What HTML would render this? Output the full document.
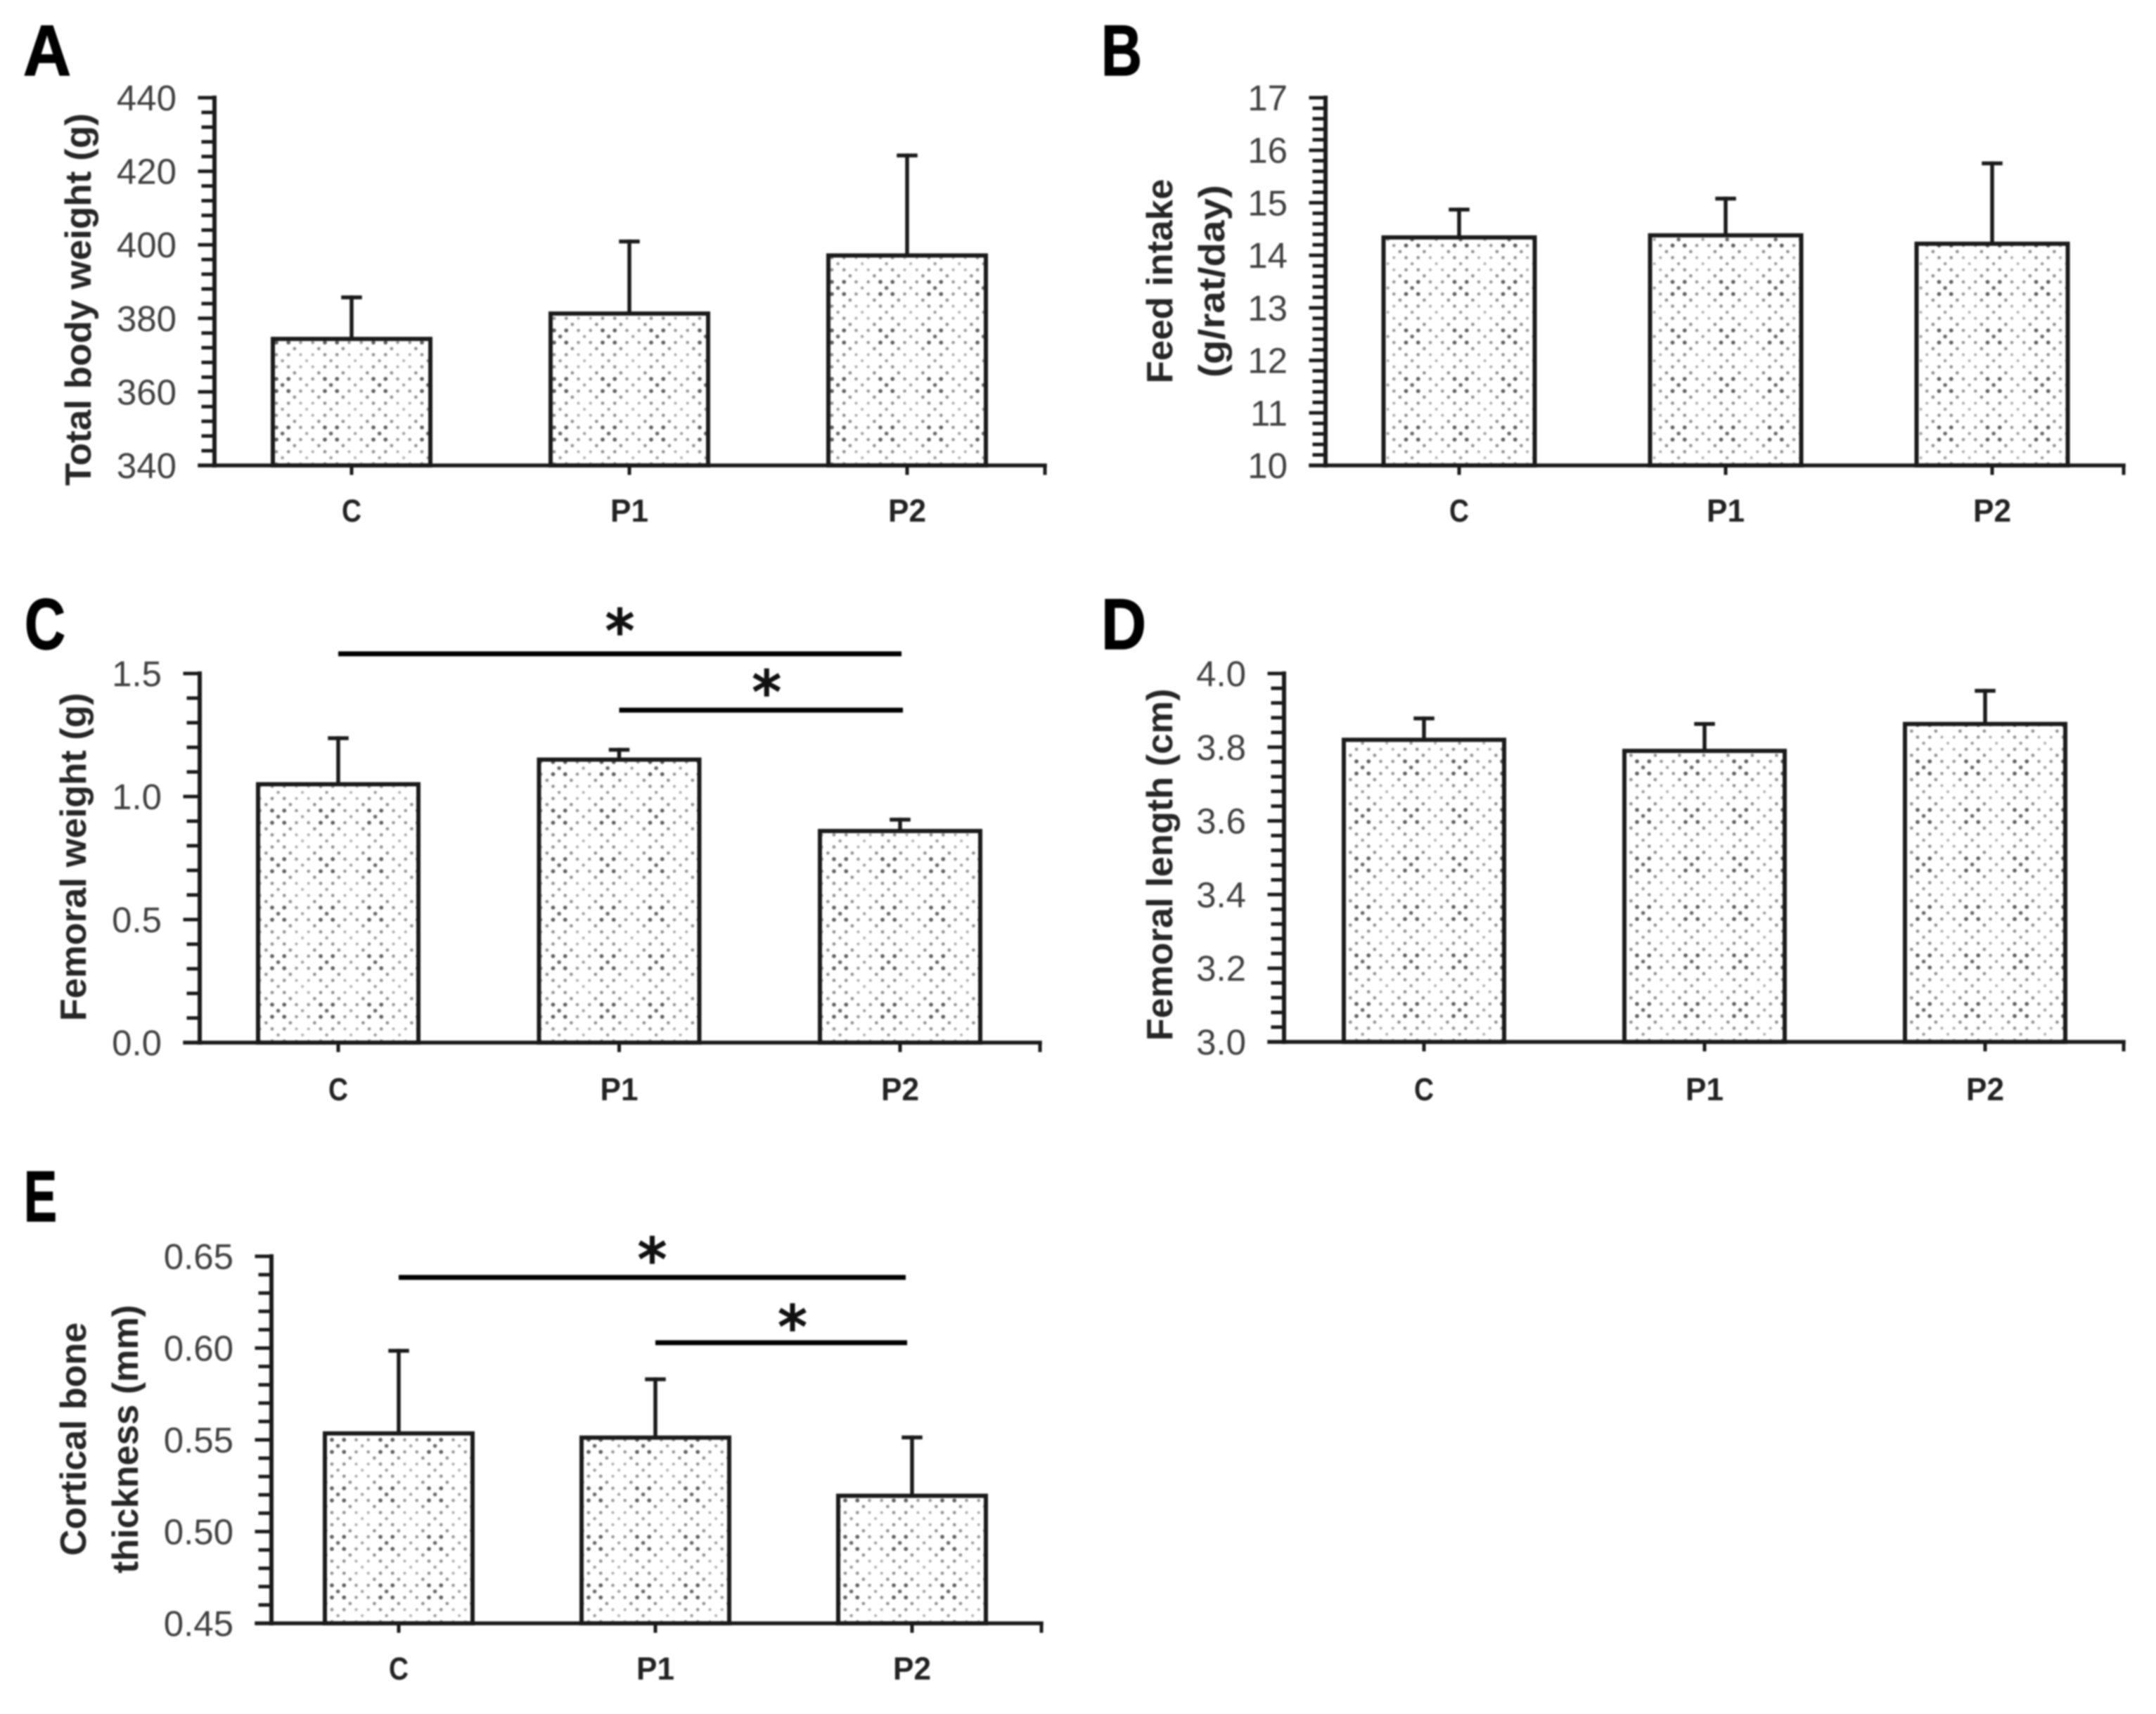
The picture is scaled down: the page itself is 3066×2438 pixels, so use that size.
<!DOCTYPE html>
<html lang="en">
<head>
<meta charset="utf-8">
<title>Body and femoral measurements</title>
<style>
html,body{margin:0;padding:0;background:#fff;width:3066px;height:2438px;overflow:hidden}
svg{display:block;filter:blur(1px)}
.tick{font-family:"Liberation Sans",sans-serif;font-size:51px;fill:#404040}
.title{font-family:"Liberation Sans",sans-serif;font-weight:700;font-size:52px;fill:#262626}
.cat{font-family:"Liberation Sans",sans-serif;font-weight:700;font-size:45px;fill:#222}
.panel{font-family:"Liberation Sans",sans-serif;font-weight:700;font-size:102px;fill:#000;stroke:#000;stroke-width:1.5}
.star{font-family:"DejaVu Sans",sans-serif;font-size:82px;fill:#111;stroke:#111;stroke-width:2.5}
</style>
</head>
<body>
<svg id="fig" xmlns="http://www.w3.org/2000/svg" width="3066" height="2438" viewBox="0 0 3066 2438">
<rect width="3066" height="2438" fill="#fff"/>
<defs><pattern id="dots" patternUnits="userSpaceOnUse" width="69" height="69"></pattern></defs>
</svg>
<script>
// ---- chart data ----
const categories = ['C', 'P1', 'P2'];

const weightTicks = ['340', '360', '380', '400', '420', '440'];
const weightMeans = [374.4, 381.3, 397.1];
const weightErrors = [11.3, 19.6, 27.2];

const feedTicks = ['10', '11', '12', '13', '14', '15', '16', '17'];
const feedMeans = [14.34, 14.38, 14.22];
const feedErrors = [0.53, 0.70, 1.53];

const femurWeightTicks = ['0.0', '0.5', '1.0', '1.5'];
const femurWeightMeans = [1.05, 1.15, 0.86];
const femurWeightErrors = [0.187, 0.04, 0.046];

const femurLengthTicks = ['3.0', '3.2', '3.4', '3.6', '3.8', '4.0'];
const femurLengthMeans = [3.82, 3.79, 3.863];
const femurLengthErrors = [0.058, 0.073, 0.09];

const corticalTicks = ['0.45', '0.50', '0.55', '0.60', '0.65'];
const corticalMeans = [0.5535, 0.5512, 0.5195];
const corticalErrors = [0.045, 0.0318, 0.0318];

const femurWeightSig = [[0, 2, 1.58], [1, 2, 1.351]];
const corticalSig = [[0, 2, 0.6385], [1, 2, 0.6029]];

// ---- layout ----
const panels = [
 {key:'a',letter:'A',lx:33,ly:107,lw:68,ticks:weightTicks,means:weightMeans,errs:weightErrors,
  axisX:305,endX:1486,top:139,bottom:662,first:500,step:395,barW:224,dotShift:5,catY:742,
  titles:[['Total body weight (g)',129,426,530]]},
 {key:'b',letter:'B',lx:1566,ly:107,lw:58,ticks:feedTicks,means:feedMeans,errs:feedErrors,
  axisX:1885,endX:3020,top:139,bottom:662,first:2075,step:379,barW:215,dotShift:32,catY:742,
  titles:[['Feed intake',1667,400,291],['(g/rat/day)',1741,400,274]]},
 {key:'c',letter:'C',lx:35,ly:923,lw:58,ticks:femurWeightTicks,means:femurWeightMeans,errs:femurWeightErrors,
  axisX:284,endX:1479,top:958,bottom:1483,first:481,step:399.5,barW:228,dotShift:20,catY:1565,sig:femurWeightSig,
  sigFmt:[{dx:2,lift:44,sx:0},{dx:4,lift:37,sx:8}],
  titles:[['Femoral weight (g)',122,1219,467]]},
 {key:'d',letter:'D',lx:1566,ly:923,lw:64,ticks:femurLengthTicks,means:femurLengthMeans,errs:femurLengthErrors,
  axisX:1826,endX:3020,top:958,bottom:1482,first:2025,step:399,barW:228,dotShift:18,catY:1565,
  titles:[['Femoral length (cm)',1667,1230,501]]},
 {key:'e',letter:'E',lx:34,ly:1737,lw:47,ticks:corticalTicks,means:corticalMeans,errs:corticalErrors,
  axisX:386,endX:1481,top:1787,bottom:2309,first:567,step:365,barW:210,dotShift:10,catY:2389,sig:corticalSig,
  sigFmt:[{dx:-9,lift:37,sx:0},{dx:-7,lift:34,sx:16}],
  titles:[['Cortical bone',122,2047,332],['thickness (mm)',196,2047,382]]}
];
const INK = '#1a1a1a';
const NS = 'http://www.w3.org/2000/svg';
const svg = document.getElementById('fig');

function mk(tag, attrs, parent, text) {
  const n = document.createElementNS(NS, tag);
  for (const k in attrs) n.setAttribute(k, attrs[k]);
  if (text !== undefined) n.textContent = text;
  parent.appendChild(n);
  return n;
}
function line(parent, x1, y1, x2, y2, w) {
  return mk('line', {x1, y1, x2, y2, stroke: INK, 'stroke-width': w, 'stroke-linecap': 'square'}, parent);
}

// ---- fill texture tile ----
const tile = document.getElementById('dots');
function dot(x, y, d) {
  const px = ((x % 69) + 69) % 69, py = ((y % 69) + 69) % 69;
  [0, -69, 69].forEach(ox => [0, -69, 69].forEach(oy => {
    const cx = px + ox, cy = py + oy;
    if (cx > -4 && cx < 73 && cy > -4 && cy < 73) {
      mk('circle', {cx, cy, r: 1.9 + d * 1.0, fill: '#333', 'fill-opacity': 0.28 + d * 0.5}, tile);
    }
  }));
}
const cellStep = 17.25, rowOrigin = 15;
for (let r = 0; r < 4; r++) for (let c = 0; c < 4; c++) {
  dot(c * cellStep, rowOrigin + r * cellStep, (c < 2 ? 1 : 0.45) * (r < 2 ? 1 : 0.5));
}
[[0, [0.9, 0.35]], [1, [0.5, 0.5]], [2, [0.4, 0.18]], [3, [0.5, 0.5]]].forEach(([s, ds]) => {
  const base = cellStep / 2 + (s % 2 ? cellStep : 0);
  const y = rowOrigin + cellStep / 2 + s * cellStep;
  dot(base, y, ds[0]);
  dot(base + 2 * cellStep, y, ds[1]);
});

// ---- draw panels ----
panels.forEach(p => {
  const tickVals = p.ticks.map(Number);
  const vMin = tickVals[0], vMax = tickVals[tickVals.length - 1];
  const yScale = v => p.bottom - (v - vMin) / (vMax - vMin) * (p.bottom - p.top);
  const xScale = i => p.first + i * p.step;

  const g = mk('g', {}, svg);
  
  

  const letter = mk('text', {x: p.lx, y: p.ly, class: 'panel', textLength: p.lw, lengthAdjust: 'spacingAndGlyphs'}, g, p.letter);
  
  

  p.titles.forEach(t => {
    const title = mk('text', {
      class: 'title', 'text-anchor': 'middle', textLength: t[3], lengthAdjust: 'spacingAndGlyphs',
      transform: 'translate(' + t[1] + ',' + t[2] + ') rotate(-90)'
    }, g, t[0]);
    
    
  });

  // bars & error bars
  categories.forEach((cat, i) => {
    const cx = xScale(i), yTop = yScale(p.means[i]), yErr = yScale(p.means[i] + p.errs[i]);
    const err = mk('g', {}, g);
    
    
    line(err, cx, yTop, cx, yErr, 5.5);
    line(err, cx - 12, yErr, cx + 12, yErr, 5.5);

    const left = cx - p.barW / 2;
    const bar = mk('rect', {
      x: -p.dotShift, y: yTop - p.bottom, width: p.barW, height: p.bottom - yTop,
      transform: 'translate(' + (left + p.dotShift) + ',' + p.bottom + ')',
      fill: 'url(#dots)', stroke: INK, 'stroke-width': 6
    }, g);
    
    
  });

  // y axis
  const yAxis = mk('g', {}, g);
  
  
  line(yAxis, p.axisX, p.top, p.axisX, p.bottom, 6);
  const tickLeft = p.axisX - 21;
  tickVals.forEach((v, i) => {
    const y = yScale(v);
    line(yAxis, tickLeft, y, p.axisX, y, 5);
    const lbl = mk('text', {x: tickLeft - 33, y: y + 18, class: 'tick', 'text-anchor': 'end'}, yAxis, p.ticks[i]);
    
    
    if (i < tickVals.length - 1) {
      const nextV = tickVals[i + 1];
      for (let m = 1; m < 5; m++) {
        const ym = yScale(v + (nextV - v) * m / 5);
        line(yAxis, tickLeft + 5, ym, p.axisX, ym, 5);
      }
    }
  });

  // x axis
  const xAxis = mk('g', {}, g);
  
  
  line(xAxis, tickLeft, p.bottom, p.endX, p.bottom, 5.5);
  line(xAxis, p.endX, p.bottom, p.endX, p.bottom + 11, 5);
  categories.forEach((cat, i) => {
    const cx = xScale(i);
    line(xAxis, cx, p.bottom, cx, p.bottom + 11, 5);
    const lbl = mk('text', {
      x: cx, y: p.catY, class: 'cat', 'text-anchor': 'middle',
      textLength: cat.length === 1 ? 28 : 54, lengthAdjust: 'spacingAndGlyphs'
    }, xAxis, cat);
    
    
  });

  // significance annotations
  (p.sig || []).forEach((s, i) => {
    const fmt = p.sigFmt[i];
    const x1 = xScale(s[0]), x2 = xScale(s[1]) + fmt.dx, y = yScale(s[2]);
    const sl = mk('line', {x1, y1: y, x2, y2: y, stroke: '#000', 'stroke-width': 7}, g);
    
    
    const star = mk('text', {x: (x1 + x2) / 2 + fmt.sx, y: y - fmt.lift + 40, class: 'star', 'text-anchor': 'middle'}, g, '*');
    
    
  });
});
</script>
</body>
</html>
